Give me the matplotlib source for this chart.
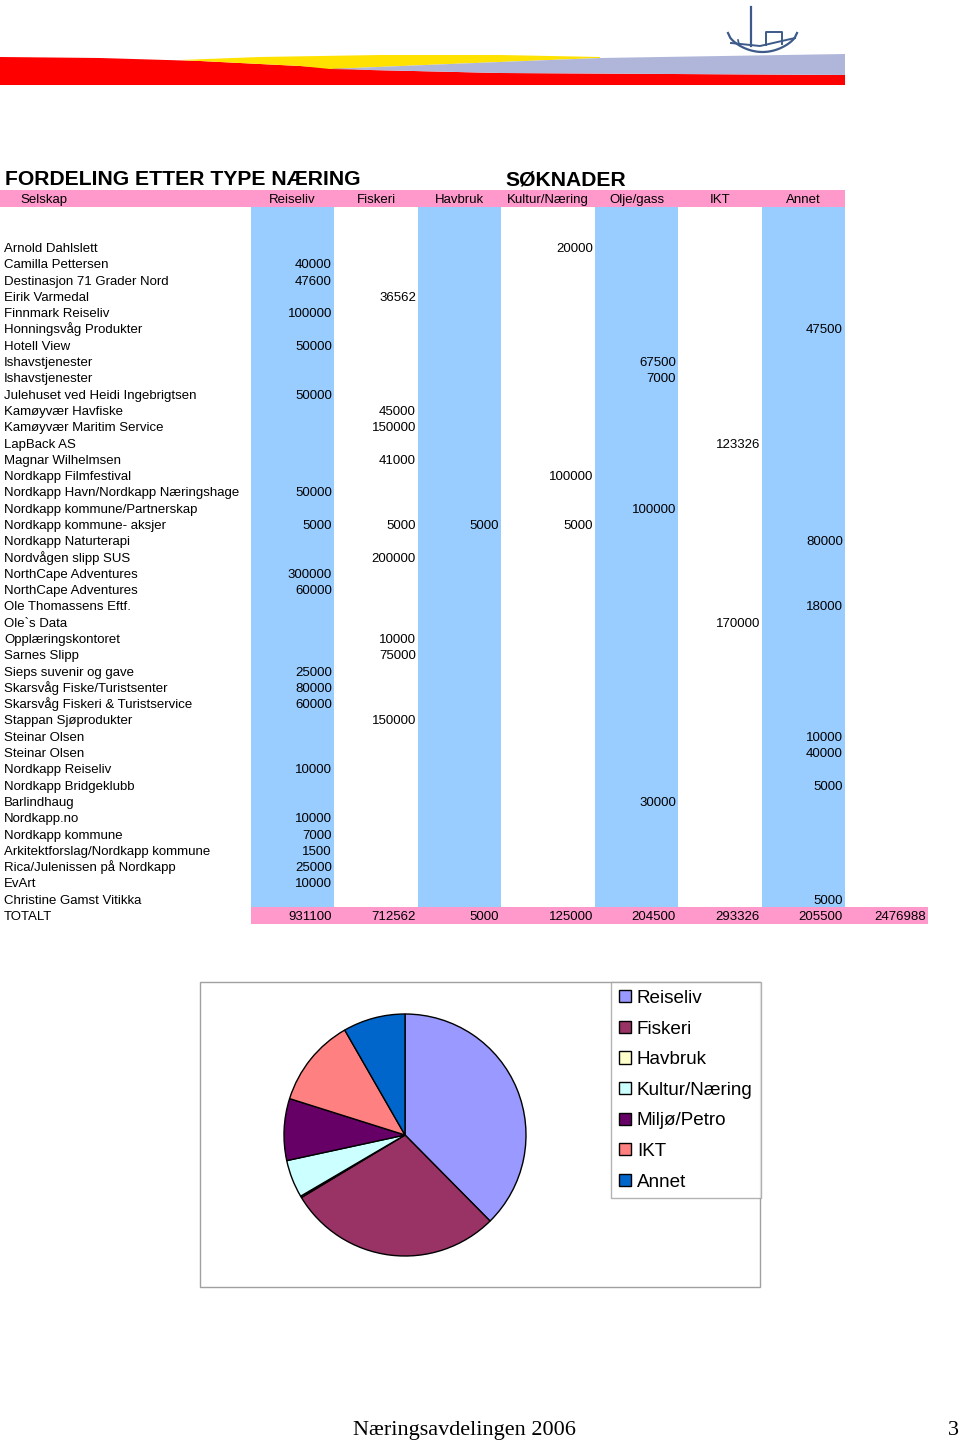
import matplotlib
matplotlib.use("Agg")
import matplotlib.pyplot as plt
from matplotlib.patches import Rectangle, Polygon
import numpy as np

# ---------------- data ----------------
title_left = "FORDELING ETTER TYPE NÆRING"
title_right = "SØKNADER"
header_first = "Selskap"
categories = ["Reiseliv", "Fiskeri", "Havbruk", "Kultur/Næring", "Olje/gass", "IKT", "Annet"]

companies = [
    "Arnold Dahlslett", "Camilla Pettersen", "Destinasjon 71 Grader Nord", "Eirik Varmedal",
    "Finnmark Reiseliv", "Honningsvåg Produkter", "Hotell View", "Ishavstjenester",
    "Ishavstjenester", "Julehuset ved Heidi Ingebrigtsen", "Kamøyvær Havfiske",
    "Kamøyvær Maritim Service", "LapBack AS", "Magnar Wilhelmsen", "Nordkapp Filmfestival",
    "Nordkapp Havn/Nordkapp Næringshage", "Nordkapp kommune/Partnerskap",
    "Nordkapp kommune- aksjer", "Nordkapp Naturterapi", "Nordvågen slipp SUS",
    "NorthCape Adventures", "NorthCape Adventures", "Ole Thomassens Eftf.", "Ole`s Data",
    "Opplæringskontoret", "Sarnes Slipp", "Sieps suvenir og gave",
    "Skarsvåg Fiske/Turistsenter", "Skarsvåg Fiskeri & Turistservice", "Stappan Sjøprodukter",
    "Steinar Olsen", "Steinar Olsen", "Nordkapp Reiseliv", "Nordkapp Bridgeklubb",
    "Barlindhaug", "Nordkapp.no", "Nordkapp kommune", "Arkitektforslag/Nordkapp kommune",
    "Rica/Julenissen på Nordkapp", "EvArt", "Christine Gamst Vitikka",
]

# category index per application, and amount
app_category = [3, 0, 0, 1, 0, 6, 0, 4, 4, 0, 1, 1, 5, 1, 3, 0, 4,
                None, 6, 1, 0, 0, 6, 5, 1, 1, 0, 0, 0, 1, 6, 6, 0, 6, 4, 0, 0, 0, 0, 0, 6]
app_amount = [20000, 40000, 47600, 36562, 100000, 47500, 50000, 67500, 7000, 50000, 45000,
              150000, 123326, 41000, 100000, 50000, 100000, None, 80000, 200000, 300000,
              60000, 18000, 170000, 10000, 75000, 25000, 80000, 60000, 150000, 10000, 40000,
              10000, 5000, 30000, 10000, 7000, 1500, 25000, 10000, 5000]
# the one row split over several categories
split_row = 17
split_values = [5000, 5000, 5000, 5000, None, None, None]

total_label = "TOTALT"
totals = [931100, 712562, 5000, 125000, 204500, 293326, 205500]
grand_total = 2476988

pie_labels = ["Reiseliv", "Fiskeri", "Havbruk", "Kultur/Næring", "Miljø/Petro", "IKT", "Annet"]
pie_values = totals
pie_colors = ["#9999ff", "#993366", "#ffffcc", "#ccffff", "#660066", "#ff8080", "#0066cc"]

footer_text = "Næringsavdelingen 2006"
page_number = "3"

# ---------------- layout ----------------
plt.rcParams['font.family'] = ['Liberation Sans', 'DejaVu Sans']
W, H = 960, 1440
fig = plt.figure(figsize=(W / 100, H / 100), dpi=100)
ax = fig.add_axes([0, 0, 1, 1])
ax.set_xlim(0, W)
ax.set_ylim(H, 0)
ax.axis('off')

# banner
red = Polygon([(0, 57), (100, 58), (200, 61), (300, 66), (370, 70), (500, 73), (845, 75),
               (845, 85), (0, 85)], closed=True, color="#ff0000", lw=0)
lav = Polygon([(330, 69), (450, 64), (600, 58), (845, 54), (845, 75), (500, 73), (370, 70)],
              closed=True, color="#b0b6da", lw=0)
yel = Polygon([(180, 60), (260, 57), (380, 55), (500, 55), (600, 57), (600, 58), (450, 64),
               (330, 69), (300, 66), (200, 61)], closed=True, color="#ffe200", lw=0)
for p in (red, yel, lav):
    ax.add_patch(p)
bc = "#3d5a8a"
ax.plot([751, 751], [7, 46], color=bc, lw=1.6)
t = np.linspace(0, 1, 30)
hx = 728 + 69 * t
hy = 33 + 19 * np.sin(np.pi * t) ** 0.6
ax.plot(hx, hy, color=bc, lw=1.6)
ax.plot([731, 760, 795], [43, 46, 38], color=bc, lw=1.4)
ax.plot([766, 766, 782, 782], [45, 32, 32, 44], color=bc, lw=1.4)
ax.plot([738, 739], [40, 44], color=bc, lw=1.2)

# table geometry
col_edges = [251, 334, 418, 501, 595, 678, 762, 845, 928]
blue_cols = [0, 2, 4, 6]
band_top, band_bot = 207, 907
BLUE = "#99ccff"
PINK = "#ff99cc"
fs = 9.5

# titles
ax.text(5, 185, title_left, fontsize=15.2, fontweight='bold', va='baseline', ha='left')
ax.text(505, 185, title_right, fontsize=15.2, fontweight='bold', va='baseline', ha='left')

# header row
ax.add_patch(Rectangle((0, 190), 845, 17, color=PINK, lw=0))
ax.text(20, 203, header_first, fontsize=fs, va='baseline', ha='left')
for i, c in enumerate(categories):
    ax.text((col_edges[i] + col_edges[i + 1]) / 2, 203, c, fontsize=fs, va='baseline',
            ha='center')

# blue column bands
for i in blue_cols:
    ax.add_patch(Rectangle((col_edges[i], band_top), col_edges[i + 1] - col_edges[i],
                           band_bot - band_top, color=BLUE, lw=0))

# rows
y0, dy = 247, (915 - 247) / 41
for r, name in enumerate(companies):
    yb = y0 + r * dy + 5
    ax.text(4, yb, name, fontsize=fs, va='baseline', ha='left')
    if r == split_row:
        for ci, v in enumerate(split_values):
            if v is not None:
                ax.text(col_edges[ci + 1] - 2, yb, str(v), fontsize=fs, va='baseline',
                        ha='right')
    else:
        ci = app_category[r]
        ax.text(col_edges[ci + 1] - 2, yb, str(app_amount[r]), fontsize=fs, va='baseline',
                ha='right')

# totals row
yt = y0 + len(companies) * dy
ax.add_patch(Rectangle((251, yt - 8.5), 928 - 251, 17, color=PINK, lw=0))
ax.text(4, yt + 5, total_label, fontsize=fs, va='baseline', ha='left')
for ci, v in enumerate(totals):
    ax.text(col_edges[ci + 1] - 2, yt + 5, str(v), fontsize=fs, va='baseline', ha='right')
ax.text(col_edges[8] - 2, yt + 5, str(grand_total), fontsize=fs, va='baseline', ha='right')

# pie frame
ax.add_patch(Rectangle((200, 982), 560, 305, fill=False, edgecolor="#a0a0a0", lw=1))

# pie
cx, cy, rad = 405, 1135, 121
m = 1.05
ax2 = fig.add_axes([(cx - rad * m) / W, (H - cy - rad * m) / H, 2 * rad * m / W,
                    2 * rad * m / H])
wedges, _ = ax2.pie(pie_values, colors=pie_colors, startangle=90, counterclock=False,
                    radius=1, wedgeprops=dict(edgecolor='black', linewidth=1))
ax2.set_xlim(-m, m)
ax2.set_ylim(-m, m)
ax2.set_aspect('equal')
ax2.axis('off')

leg = ax2.legend(wedges, pie_labels, loc='upper left',
                 bbox_to_anchor=(611 / W, 1 - 982 / H), bbox_transform=fig.transFigure,
                 frameon=True, fancybox=False, fontsize=13.6, handlelength=0.63,
                 handleheight=0.63, handletextpad=0.32, labelspacing=0.72,
                 borderpad=0.42, borderaxespad=0)
leg.get_frame().set_edgecolor("#a0a0a0")
leg.get_frame().set_linewidth(1)

# footer
ax.text(353, 1435, footer_text, fontsize=16, family=['Liberation Serif', 'DejaVu Serif'],
        va='baseline', ha='left')
ax.text(959, 1435, page_number, fontsize=16, family=['Liberation Serif', 'DejaVu Serif'],
        va='baseline', ha='right')

fig.savefig("out.png", dpi=100)
